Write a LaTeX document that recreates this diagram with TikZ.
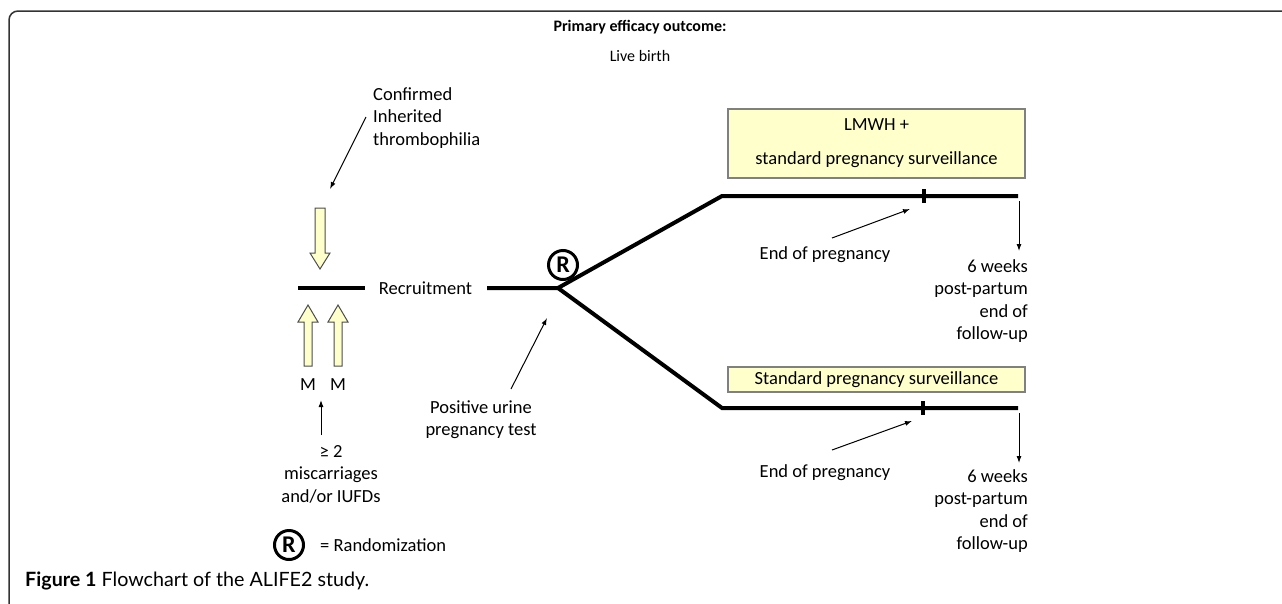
\documentclass[tikz,border=0pt]{standalone}
\usepackage{fontspec}
\setmainfont{Carlito}
\newfontfamily\capfont{Lato}
\usetikzlibrary{arrows.meta}
\definecolor{boxfill}{HTML}{FFFFCC}
\definecolor{boxline}{HTML}{808080}
\definecolor{framec}{HTML}{333333}
\tikzset{
  lbl/.style={inner sep=0pt, font=\fontsize{18.5}{22.5}\selectfont},
  thick line/.style={line width=4pt, line cap=butt},
  thin arrow/.style={line width=1pt, -{Latex[length=7pt,width=5pt]}},
  yarrow/.style={draw=black!70, fill=boxfill, line width=1pt, line join=miter},
  armbox/.style={draw=boxline, fill=boxfill, line width=1.2pt, minimum width=297pt, inner sep=0pt, font=\fontsize{18.5}{22.5}\selectfont, align=center},
  rsym/.style={circle, draw, line width=3pt, minimum size=29pt, inner sep=0pt, font=\bfseries\fontsize{24}{24}\selectfont}
}
\begin{document}
\begin{tikzpicture}[x=1pt,y=-1pt]
\useasboundingbox (0,0) rectangle (1282,603);
% frame
\draw[framec, line width=1.5pt, rounded corners=9pt] (9,610) -- (9,11) -- (1290,11);
% titles
\node[lbl, font=\bfseries\fontsize{16}{19}\selectfont] (title) at (640,27) {Primary efficacy outcome:};
\node[lbl, font=\fontsize{16}{19}\selectfont] (live) at (640,56) {Live birth};
% left part
\node[lbl, anchor=west, align=left] (conf) at (373,118) {Confirmed\\Inherited\\thrombophilia};
\coordinate (confs) at (366,117);
\coordinate (confe) at (330,189);
\draw[thin arrow] (confs) -- (confe);
\draw[yarrow] (315,208) -- (325,208) -- (325,253) -- (330,253) -- (320,269) -- (310,253) -- (315,253) -- cycle;
\coordinate (rl1) at (298,288);
\coordinate (rl2) at (365,288);
\draw[thick line] (rl1) -- (rl2);
\node[lbl] (recr) at (425.5,288) {Recruitment};
\draw[yarrow] (304,366) -- (304,322) -- (298,322) -- (308,305) -- (318,322) -- (312,322) -- (312,366) -- cycle;
\draw[yarrow] (334,366) -- (334,322) -- (328,322) -- (338,305) -- (348,322) -- (342,322) -- (342,366) -- cycle;
\node[lbl] (M1) at (308,385) {M};
\node[lbl] (M2) at (338,385) {M};
\node[lbl, align=center] (mis) at (331,474) {≥ 2\\miscarriages\\and/or IUFDs};
\coordinate (mise) at (321,400);
\coordinate (miss) at (321,435);
\draw[thin arrow] (miss) -- (mise);
% legend
\node[rsym] (Rleg) at (289,545) {R};
\node[lbl, anchor=west] (leg) at (320,545) {= Randomization};
% randomization branch
\coordinate (b0) at (487,288);
\coordinate (br) at (558,288);
\coordinate (u1) at (722,196);
\coordinate (u2) at (1018,196);
\coordinate (l1) at (722,408);
\coordinate (l2) at (1018,408);
\draw[thick line, line join=miter] (b0) -- (br) -- (u1) -- (u2);
\draw[thick line, line join=miter] (br) -- (l1) -- (l2);
\node[rsym] (R) at (563,265) {R};
\node[lbl, align=center] (pos) at (481,419.5) {Positive urine\\pregnancy test};
\coordinate (poss) at (511,389);
\coordinate (pose) at (547,318);
\draw[thin arrow] (poss) -- (pose);
% upper arm
\node[armbox, minimum height=69pt] (box1) at (876.5,143.5) {LMWH +\\[11.5pt]standard pregnancy surveillance};
\coordinate (t1a) at (924,189);
\coordinate (t1b) at (924,203);
\draw[line width=3.5pt] (t1a) -- (t1b);
\node[lbl] (eop1) at (825,255) {End of pregnancy};
\coordinate (e1s) at (832,238);
\coordinate (e1e) at (910,209);
\draw[thin arrow] (e1s) -- (e1e);
\coordinate (w1s) at (1019,201);
\coordinate (w1e) at (1019,251);
\draw[thin arrow] (w1s) -- (w1e);
\node[lbl, anchor=north east, align=right] (wk1) at (1028,259) {6 weeks\\post-partum\\end of\\follow-up};
% lower arm
\node[armbox, minimum height=25pt] (box2) at (876.5,379.5) {Standard pregnancy surveillance};
\coordinate (t2a) at (923,401);
\coordinate (t2b) at (923,415);
\draw[line width=3.5pt] (t2a) -- (t2b);
\node[lbl] (eop2) at (825,473) {End of pregnancy};
\coordinate (e2s) at (832,450);
\coordinate (e2e) at (912,421);
\draw[thin arrow] (e2s) -- (e2e);
\coordinate (w2s) at (1019,413);
\coordinate (w2e) at (1019,463);
\draw[thin arrow] (w2s) -- (w2e);
\node[lbl, anchor=north east, align=right] (wk2) at (1028,469) {6 weeks\\post-partum\\end of\\follow-up};
% caption
\node[inner sep=0pt, anchor=west, font=\capfont\fontsize{19.7}{23}\selectfont] (cap) at (25,581) {\textbf{Figure 1} Flowchart of the ALIFE2 study.};
\end{tikzpicture}
\end{document}
